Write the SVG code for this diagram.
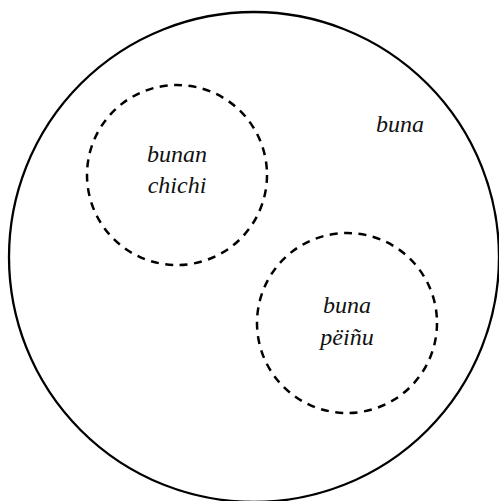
<svg xmlns="http://www.w3.org/2000/svg" width="499" height="501" viewBox="0 0 499 501">
<style>
.outer{fill:none;stroke:#000;stroke-width:2.3}
.set{fill:none;stroke:#000;stroke-width:2.5;stroke-dasharray:8 6.5}
.lbl{font-family:"Liberation Serif","Times New Roman",serif;font-style:italic;font-size:24px;fill:#111;text-anchor:middle}
</style>
<rect width="499" height="501" fill="#fff"/>
<g id="universe">
<circle class="outer" cx="254" cy="257" r="245"/>
<text class="lbl" x="400" y="132">buna</text>
</g>
<g id="bunan-chichi">
<circle class="set" cx="177" cy="175" r="90"/>
<text class="lbl" x="177" y="162">bunan</text>
<text class="lbl" x="177" y="193">chichi</text>
</g>
<g id="buna-peinu">
<circle class="set" cx="347" cy="323" r="90"/>
<text class="lbl" x="347" y="313">buna</text>
<text class="lbl" x="347" y="345">pëiñu</text>
</g>
<g id="connectors"></g>
</svg>
